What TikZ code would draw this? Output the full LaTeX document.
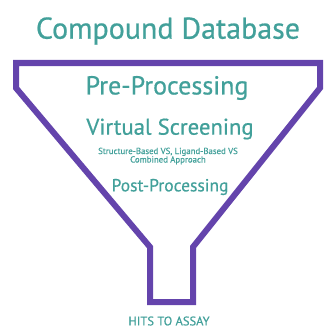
\documentclass[tikz,border=0pt]{standalone}
\usepackage{fontspec}
\setmainfont{PT Sans}[FakeBold=0.6]
\definecolor{funnel}{HTML}{6444AC}
\definecolor{teal}{HTML}{42A09A}
\tikzset{
  lbl/.style={text=teal, inner sep=0pt, anchor=center},
  funnelline/.style={draw=funnel, line width=6pt, line join=miter}
}
\begin{document}
\begin{tikzpicture}[x=1pt,y=-1pt]
\useasboundingbox (0,0) rectangle (327,329);
\draw[funnelline] (16,63) -- (320,63) -- (320,88) -- (193,247) -- (193,302) -- (150,302) -- (150,247) -- (16,88) -- cycle;
\node[lbl, font=\fontsize{30}{34}\selectfont] (title) at (168,31) {Compound Database};
\node[lbl, font=\fontsize{26}{30}\selectfont] (pre) at (167,88) {Pre-Processing};
\node[lbl, font=\fontsize{22.7}{27}\selectfont] (vs) at (170,129) {Virtual Screening};
\node[lbl, font=\fontsize{8.8}{8.5}\selectfont, align=center] (sub) at (168,156) {Structure-Based VS, Ligand-Based VS\\Combined Approach};
\node[lbl, font=\fontsize{17.5}{21}\selectfont] (post) at (170,187) {Post-Processing};
\node[lbl, font=\fontsize{12.5}{15}\selectfont] (hits) at (169,321) {HITS TO ASSAY};
\end{tikzpicture}
\end{document}
